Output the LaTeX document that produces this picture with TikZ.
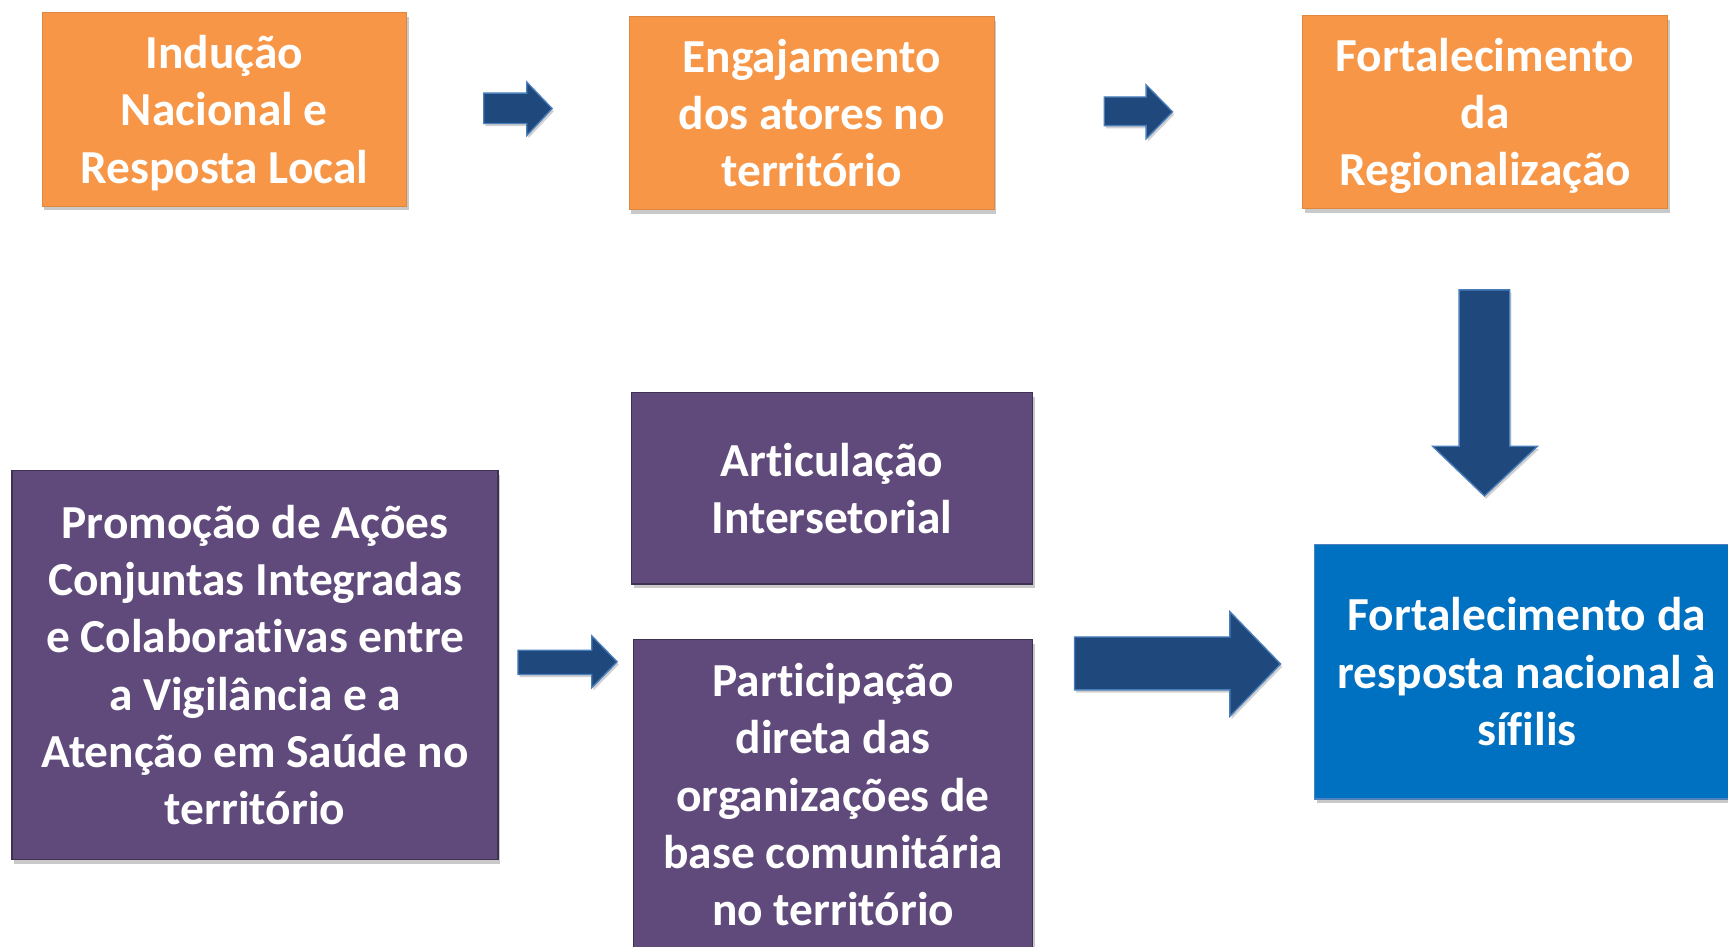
\documentclass[tikz,border=0pt]{standalone}
\usepackage{fontspec}
\setmainfont{Carlito}[BoldFont={Carlito Bold}, Ligatures=NoCommon]
\usetikzlibrary{shadows}
\definecolor{orangebox}{HTML}{F79646}
\definecolor{purplebox}{HTML}{604A7B}
\definecolor{purpleedge}{HTML}{3F3151}
\definecolor{bluebox}{HTML}{0070C0}
\definecolor{blueedge}{HTML}{4F81BD}
\definecolor{arrowfill}{HTML}{1F497D}
\definecolor{arrowedge}{HTML}{4A7EBB}
\tikzset{
  boxbase/.style={rectangle, inner sep=0pt, align=flush center, text=white,
    font=\fontsize{43}{52}\bfseries\selectfont,
    drop shadow={shadow xshift=2pt, shadow yshift=-4pt, opacity=0.35, fill=black!60}},
  obox/.style={boxbase, fill=orangebox, draw=orangebox!90!black, line width=0.6pt},
  pbox/.style={boxbase, fill=purplebox, draw=purpleedge, line width=1.2pt},
  bbox/.style={boxbase, fill=bluebox, draw=blueedge, line width=1.2pt},
  blockarrow/.style={fill=arrowfill, draw=arrowedge, line width=1.2pt, line join=miter,
    drop shadow={shadow xshift=1.5pt, shadow yshift=-2.5pt, opacity=0.3, fill=black!60}},
}
\begin{document}
\begin{tikzpicture}[x=1pt,y=-1pt]
\useasboundingbox (0,0) rectangle (1568,859);
\fill[white] (0,0) rectangle (1568,859);
\clip (0,0) rectangle (1568,859);

% top row
\node[obox, minimum width=331pt, minimum height=176pt, text width=320pt] (o1) at (203.5,99)
  {Indução\\Nacional e\\\smash{Resposta Local}};
\node[obox, minimum width=331pt, minimum height=175pt, text width=320pt] (o2) at (736.5,102.5)
  {Engajamento\\dos atores no\\território};
\node[obox, minimum width=331pt, minimum height=175pt, text width=320pt] (o3) at (1347.5,101.5)
  {Fortalecimento\\da\\\smash{Regionalização}};

% bottom row
\node[pbox, minimum width=441pt, minimum height=353pt, text width=430pt] (p1) at (231.5,603.5)
  {Promoção de Ações\\Conjuntas Integradas\\e Colaborativas entre\\a Vigilância e a\\Atenção em Saúde no\\território};
\node[pbox, minimum width=364pt, minimum height=174pt, text width=350pt] (p2) at (755,443)
  {Articulação\\Intersetorial};
\node[pbox, minimum width=362pt, minimum height=282pt, text width=350pt] (p3) at (756,721)
  {Participação\\direta das\\organizações de\\base comunitária\\no território};
\node[bbox, minimum width=385pt, minimum height=231pt, text width=375pt] (b1) at (1385.5,609.5)
  {Fortalecimento da\\resposta nacional à\\sífilis};

% block arrows
\coordinate (a1) at (439,98);
\draw[blockarrow] (a1) ++(0,-13.5) -- ++(39,0) -- ++(0,-10) -- (501,98.5) -- (478,123) -- ++(0,-11) -- ++(-39,0) -- cycle;
\coordinate (a2) at (1002,101);
\draw[blockarrow] (a2) ++(0,-13) -- ++(38,0) -- ++(0,-11) -- (1064,101.5) -- (1040,126) -- ++(0,-12) -- ++(-38,0) -- cycle;
\coordinate (a3) at (1347,263);
\draw[blockarrow] (1324,263) -- (1370,263) -- (1370,405) -- (1395,405) -- (1347,450) -- (1300,405) -- (1324,405) -- cycle;
\coordinate (a4) at (470,601);
\draw[blockarrow] (470,590) -- (537,590) -- (537,577) -- (560,600.5) -- (537,624) -- (537,612) -- (470,612) -- cycle;
\coordinate (a5) at (975,602);
\draw[blockarrow] (975,578) -- (1116,578) -- (1116,555) -- (1162,602.5) -- (1116,650) -- (1116,626) -- (975,626) -- cycle;
\end{tikzpicture}
\end{document}
